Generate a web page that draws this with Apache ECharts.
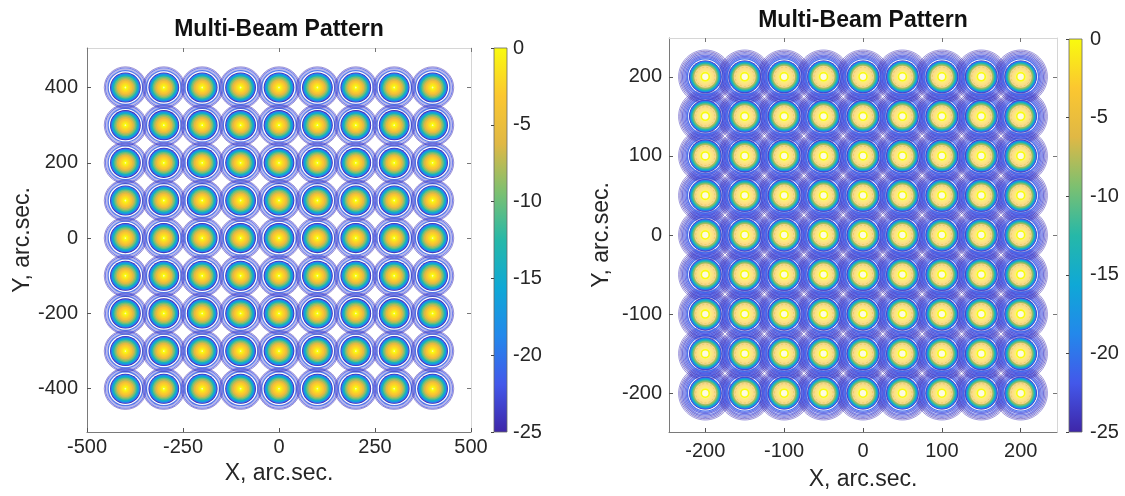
<!DOCTYPE html>
<html>
<head>
<meta charset="utf-8">
<script src="https://cdn.jsdelivr.net/npm/echarts@6/dist/echarts.min.js"></script>
<style>
  html, body { margin: 0; padding: 0; background: #ffffff; }
  #chart { width: 1125px; height: 496px; }
</style>
</head>
<body>
<div id="chart"></div>
<script>
// Beam centre positions (arc.sec.), same list for X and Y
const beamsLeft = [-400, -300, -200, -100, 0, 100, 200, 300, 400];
const beamsRight = [-200, -150, -100, -50, 0, 50, 100, 150, 200];

// Axis tick values
const xTicksLeft = [-500, -250, 0, 250, 500];
const yTicksLeft = [-400, -200, 0, 200, 400];
const xTicksRight = [-200, -100, 0, 100, 200];
const yTicksRight = [-200, -100, 0, 100, 200];
const cbarTicks = [-25, -20, -15, -10, -5, 0];

// Main-lobe contour levels (dB) and radius of each contour (arc.sec.)
const mainLevels = [-25, -22, -19, -16, -13, -10, -8, -6, -4, -3, -2, -1];
const mainRadiiLeft = [40, 38.5, 37, 35, 32, 29, 25.5, 22, 18, 15.5, 12, 8.5];
const mainRadiiRight = [20.6, 20.2, 19.5, 18.7, 17.7, 16.4, 15.2, 13.9, 12.2, 10.8, 9, 7];

// Side-lobe contour rings: level (dB) and radius (arc.sec.)
const sideLevelsLeft = [-21, -24, -22, -25];
const sideRadiiLeft = [45, 48.5, 52, 55];
const sideLevelsRight = [-21, -22, -23, -22, -24, -23, -25, -24];
const sideRadiiRight = [22.6, 24.2, 25.8, 27.4, 29, 30.6, 32.2, 33.8];

// Peak contour ring near the beam centre
const peakLevel = 0;
const peakRadiusLeft = 4;
const peakRadiusRight = 5;

const cMin = -25, cMax = 0;

// parula colour map
const parulaStops = ['#3e26a8', '#4358ea', '#2388eb', '#0fa8d6', '#26b8a8', '#7dc070', '#e0b845', '#fbc730', '#f9fb0e'];

function hexToRgb(h) {
  return [parseInt(h.slice(1, 3), 16), parseInt(h.slice(3, 5), 16), parseInt(h.slice(5, 7), 16)];
}
function rgbStr(c, a) {
  const r = c.map(v => Math.round(v));
  return a === undefined ? 'rgb(' + r.join(',') + ')' : 'rgba(' + r.join(',') + ',' + a + ')';
}
function parulaRgb(level) {
  const t = Math.max(0, Math.min(1, (level - cMin) / (cMax - cMin)));
  const p = t * (parulaStops.length - 1);
  const i = Math.min(Math.floor(p), parulaStops.length - 2);
  const f = p - i;
  const a = hexToRgb(parulaStops[i]), b = hexToRgb(parulaStops[i + 1]);
  return a.map((v, k) => v + (b[k] - v) * f);
}
function parula(level, alpha) { return rgbStr(parulaRgb(level), alpha); }
function washed(level, w) {
  const c = parulaRgb(level);
  return rgbStr(c.map(v => v + (255 - v) * w));
}

function gridPairs(list) {
  const out = [];
  list.forEach(y => list.forEach(x => out.push([x, y])));
  return out;
}

function ellipseAt(api, c, r) {
  const s = api.size([r, r]);
  return { cx: c[0], cy: c[1], rx: Math.abs(s[0]), ry: Math.abs(s[1]) };
}

// Outer side-lobe rings of every beam
function sideRenderer(levels, radii, widths, alphas) {
  return function (params, api) {
    const c = api.coord([api.value(0), api.value(1)]);
    const children = radii.map((r, i) => ({
      type: 'ellipse',
      shape: ellipseAt(api, c, r),
      style: { fill: null, stroke: parula(levels[i], alphas[i]), lineWidth: widths[i] },
      silent: true
    }));
    return { type: 'group', children: children };
  };
}

// Main lobe drawn as filled contour bands, outermost first
function mainRenderer(radii, peakR, wash, washFrom) {
  return function (params, api) {
    const c = api.coord([api.value(0), api.value(1)]);
    const children = [];
    radii.forEach((r, i) => {
      const lv = mainLevels[i];
      const fill = lv >= washFrom ? washed(lv, wash) : parula(lv);
      children.push({ type: 'ellipse', shape: ellipseAt(api, c, r), style: { fill: fill }, silent: true });
    });
    if (wash > 0) {
      children.push({
        type: 'ellipse', shape: ellipseAt(api, c, radii[mainLevels.indexOf(-4)]),
        style: { fill: null, stroke: parula(-5, 0.5), lineWidth: 1, lineDash: [2, 2] }, silent: true
      });
    }
    children.push({
      type: 'ellipse', shape: ellipseAt(api, c, peakR),
      style: { fill: wash > 0 ? '#fdfbe0' : '#fcf9b0', stroke: parula(peakLevel), lineWidth: wash > 0 ? 1.6 : 1.2 },
      silent: true
    });
    return { type: 'group', children: children };
  };
}

// Colour bar: gradient rectangle spanning the level range
function colorbarRenderer(params, api) {
  const p0 = api.coord([0, cMax]);
  const p1 = api.coord([1, cMin]);
  const n = parulaStops.length - 1;
  const stops = parulaStops.map((c, i) => ({ offset: 1 - i / n, color: c })).reverse();
  return {
    type: 'rect',
    shape: { x: p0[0], y: p0[1], width: p1[0] - p0[0], height: p1[1] - p0[1] },
    style: {
      fill: new echarts.graphic.LinearGradient(0, 0, 0, 1, stops),
      stroke: '#666666', lineWidth: 0.8
    },
    silent: true
  };
}

const textColor = '#262626';
const fontFamily = '"Liberation Sans", Arial, Helvetica, sans-serif';
const tickFont = 20;
const nameFont = 23;

function plotXAxes(gridIndex, min, max, ticks, gap, margin) {
  return [
    {
      type: 'value', gridIndex: gridIndex, position: 'bottom', min: min, max: max,
      name: 'X, arc.sec.', nameLocation: 'middle', nameGap: gap,
      nameTextStyle: { color: textColor, fontSize: nameFont, fontFamily: fontFamily },
      axisLine: { show: true, onZero: false, lineStyle: { color: '#7a7a7a', width: 1 } },
      axisTick: { show: true, inside: true, length: 4, customValues: ticks, lineStyle: { color: '#555' } },
      axisLabel: { show: true, customValues: ticks, margin: margin, color: textColor, fontSize: tickFont, fontFamily: fontFamily },
      splitLine: { show: false }
    },
    {
      type: 'value', gridIndex: gridIndex, position: 'top', min: min, max: max,
      axisLine: { show: true, onZero: false, lineStyle: { color: '#d6d6d6', width: 1 } },
      axisTick: { show: true, inside: true, length: 4, customValues: ticks, lineStyle: { color: '#777' } },
      axisLabel: { show: false }, splitLine: { show: false }
    }
  ];
}
function plotYAxes(gridIndex, min, max, ticks, gap, margin) {
  return [
    {
      type: 'value', gridIndex: gridIndex, position: 'left', min: min, max: max,
      name: 'Y, arc.sec.', nameLocation: 'middle', nameGap: gap,
      nameTextStyle: { color: textColor, fontSize: nameFont, fontFamily: fontFamily },
      axisLine: { show: true, onZero: false, lineStyle: { color: '#7a7a7a', width: 1 } },
      axisTick: { show: true, inside: true, length: 4, customValues: ticks, lineStyle: { color: '#555' } },
      axisLabel: { show: true, customValues: ticks, margin: margin, color: textColor, fontSize: tickFont, fontFamily: fontFamily },
      splitLine: { show: false }
    },
    {
      type: 'value', gridIndex: gridIndex, position: 'right', min: min, max: max,
      axisLine: { show: true, onZero: false, lineStyle: { color: '#d6d6d6', width: 1 } },
      axisTick: { show: true, inside: true, length: 4, customValues: ticks, lineStyle: { color: '#777' } },
      axisLabel: { show: false }, splitLine: { show: false }
    }
  ];
}
function cbarX(gridIndex) {
  return { type: 'value', gridIndex: gridIndex, min: 0, max: 1, show: false };
}
function cbarY(gridIndex, margin) {
  return {
    type: 'value', gridIndex: gridIndex, position: 'right', min: cMin, max: cMax, interval: 5,
    axisLine: { show: false },
    axisTick: { show: true, inside: true, length: 3, customValues: cbarTicks, lineStyle: { color: '#444' } },
    axisLabel: { show: true, customValues: cbarTicks, margin: margin, color: textColor, fontSize: tickFont, fontFamily: fontFamily },
    splitLine: { show: false }, z: 5
  };
}

const chart = echarts.init(document.getElementById('chart'), null, { renderer: 'canvas' });

chart.setOption({
  backgroundColor: '#ffffff',
  animation: false,
  graphic: [
    {
      type: 'text', x: 279, y: 30,
      style: { text: 'Multi-Beam Pattern', fill: '#111', font: 'bold 23px ' + fontFamily, textAlign: 'center', textVerticalAlign: 'middle' }
    },
    {
      type: 'text', x: 863, y: 21,
      style: { text: 'Multi-Beam Pattern', fill: '#111', font: 'bold 23px ' + fontFamily, textAlign: 'center', textVerticalAlign: 'middle' }
    }
  ],
  grid: [
    { left: 87, top: 48, width: 384, height: 384 },
    { left: 669, top: 38, width: 388, height: 395 },
    { left: 494, top: 48, width: 13, height: 384 },
    { left: 1069, top: 39, width: 13, height: 393 }
  ],
  xAxis: [
    ...plotXAxes(0, -500, 500, xTicksLeft, 30, 5),
    ...plotXAxes(1, -246, 246, xTicksRight, 36, 9),
    cbarX(2), cbarX(3)
  ],
  yAxis: [
    ...plotYAxes(0, -515, 505, yTicksLeft, 50, 9),
    ...plotYAxes(1, -249, 249, yTicksRight, 56, 7),
    cbarY(2, 6), cbarY(3, 8)
  ],
  series: [
    {
      type: 'custom', xAxisIndex: 0, yAxisIndex: 0, clip: true,
      data: gridPairs(beamsLeft),
      renderItem: sideRenderer(sideLevelsLeft, sideRadiiLeft, [1.3, 1.5, 1.1, 1.0], [0.85, 0.35, 0.75, 0.5])
    },
    {
      type: 'custom', xAxisIndex: 0, yAxisIndex: 0, clip: true,
      data: gridPairs(beamsLeft),
      renderItem: mainRenderer(mainRadiiLeft, peakRadiusLeft, 0, 100)
    },
    {
      type: 'custom', xAxisIndex: 2, yAxisIndex: 2, clip: true,
      data: gridPairs(beamsRight),
      renderItem: sideRenderer(sideLevelsRight, sideRadiiRight,
        [1.4, 1.2, 1.2, 1.2, 1.1, 1.1, 1.0, 1.0], [0.9, 0.8, 0.75, 0.75, 0.7, 0.65, 0.6, 0.5])
    },
    {
      type: 'custom', xAxisIndex: 2, yAxisIndex: 2, clip: true,
      data: gridPairs(beamsRight),
      renderItem: mainRenderer(mainRadiiRight, peakRadiusRight, 0.42, -6)
    },
    {
      type: 'custom', xAxisIndex: 4, yAxisIndex: 4,
      data: [[0, 0]], renderItem: colorbarRenderer
    },
    {
      type: 'custom', xAxisIndex: 5, yAxisIndex: 5,
      data: [[0, 0]], renderItem: colorbarRenderer
    }
  ]
});
</script>
</body>
</html>
